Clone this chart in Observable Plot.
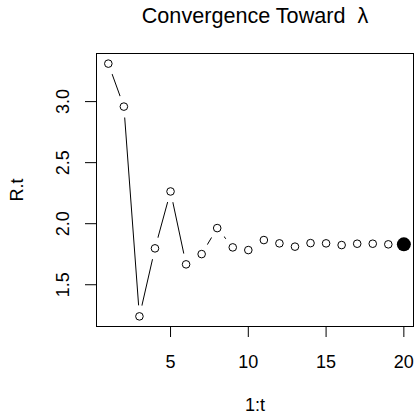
<!DOCTYPE html>
<html>
<head>
<meta charset="utf-8">
<script src="https://cdn.jsdelivr.net/npm/d3@7"></script>
<script src="https://cdn.jsdelivr.net/npm/@observablehq/plot@0.6"></script>
<style>
  html, body { margin: 0; padding: 0; background: white; }
  #chart { width: 415px; height: 415px; }
</style>
</head>
<body>
<div id="chart"></div>
<script>
const tIndex = [1, 2, 3, 4, 5, 6, 7, 8, 9, 10, 11, 12, 13, 14, 15, 16, 17, 18, 19, 20];
const Rt = [3.311, 2.959, 1.241, 1.798, 2.264, 1.667, 1.751, 1.964, 1.806, 1.784,
            1.866, 1.839, 1.812, 1.841, 1.839, 1.825, 1.836, 1.836, 1.831, 1.831];
const xTicks = [5, 10, 15, 20];
const yTicks = [1.5, 2.0, 2.5, 3.0];
const titleText = "Convergence Toward\u00a0\u00a0\u03bb";
const xLabel = "1:t";
const yLabel = "R.t";

const data = tIndex.map((t, i) => ({t, r: Rt[i]}));
const last = [data[data.length - 1]];

const font = "'Liberation Sans', Arial, Helvetica, sans-serif";

const chart = Plot.plot({
  width: 415,
  height: 415,
  marginLeft: 96,
  marginRight: 2,
  marginTop: 53,
  marginBottom: 89,
  x: {domain: [0.24, 20.62], label: null},
  y: {domain: [1.158, 3.394], label: null},
  style: {fontFamily: font, fontSize: "18px", background: "white", color: "black"},
  marks: [
    Plot.line(data, {x: "t", y: "r", stroke: "black", strokeWidth: 1}),
    Plot.dot(data, {x: "t", y: "r", r: 11, fill: "white", stroke: "none"}),
    Plot.dot(data, {x: "t", y: "r", r: 3.8, fill: "white", stroke: "black", strokeWidth: 1}),
    Plot.dot(last, {x: "t", y: "r", r: 7, fill: "black", stroke: "none"}),
    Plot.frame({stroke: "black", strokeWidth: 1}),
    Plot.axisX({ticks: xTicks, tickSize: 11, tickFormat: () => "", stroke: "black", label: null}),
    Plot.axisY({ticks: yTicks, tickSize: 11, tickFormat: () => "", stroke: "black", label: null}),
    Plot.text(xTicks, {x: d => d, text: d => String(d), frameAnchor: "bottom", dy: 36, lineAnchor: "middle", fontSize: 18, fill: "black"}),
    Plot.text(yTicks, {y: d => d, text: d => d.toFixed(1), frameAnchor: "left", dx: -33, rotate: -90, lineAnchor: "middle", textAnchor: "middle", fontSize: 18, fill: "black"}),
    Plot.text([xLabel], {text: d => d, frameAnchor: "bottom", dy: 79, lineAnchor: "middle", fontSize: 18, fill: "black"}),
    Plot.text([yLabel], {text: d => d, frameAnchor: "left", dx: -79, rotate: -90, lineAnchor: "middle", textAnchor: "middle", fontSize: 18, fill: "black"}),
    Plot.text([titleText], {text: d => d, frameAnchor: "top", dy: -37, lineAnchor: "middle", fontSize: 21.6, fill: "black"})
  ]
});
document.getElementById("chart").appendChild(chart);
</script>
</body>
</html>
